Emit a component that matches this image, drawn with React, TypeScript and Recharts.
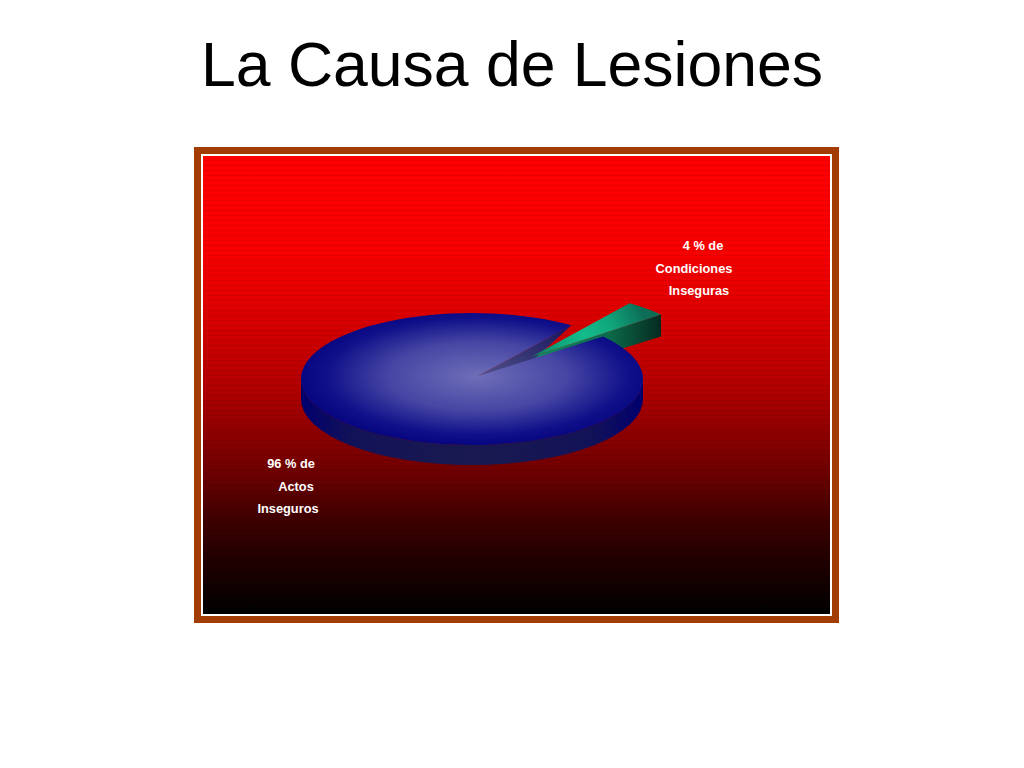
import { Pie, PieChart } from "recharts";

const categories = ["Condiciones Inseguras", "Actos Inseguros"];
const shares = [4, 96];
const titleText = "La Causa de Lesiones";
const condicionesLabel = ["4 % de", "Condiciones", "Inseguras"];
const actosLabel = ["96 % de", "Actos", "Inseguros"];

const pieData = categories.map((name, i) => ({ name, value: shares[i] }));

const TILT = 0.386;
const DEPTH = 20;
const CX = 472;
const CY = 379;
const RADIUS = 171;
// the tilted drawing has its centre point a bit off from the middle of the disc
const APEX = { x: 478, y: 376 };
const WEDGE_APEX = { x: 531, y: 357 };
const WEDGE_SHIFT = { x: 58, y: -22 };

const rim = (p: any, angle: number, dx = 0, dy = 0) => {
  const a = (angle * Math.PI) / 180;
  return {
    x: p.cx + p.outerRadius * Math.cos(a) + dx,
    y: p.cy - p.outerRadius * TILT * Math.sin(a) + dy
  };
};

const isWedge = (p: any) => (p.payload?.name ?? p.name) === categories[0];

const topPath = (p: any, apex: { x: number; y: number }, dx = 0, dy = 0) => {
  const from = rim(p, p.startAngle, dx, dy);
  const to = rim(p, p.endAngle, dx, dy);
  const large = Math.abs(p.endAngle - p.startAngle) > 180 ? 1 : 0;
  const rx = p.outerRadius;
  const ry = p.outerRadius * TILT;
  return `M${apex.x},${apex.y} L${from.x},${from.y} A${rx},${ry} 0 ${large} 0 ${to.x},${to.y} Z`;
};

// side of the big slice, only the front half of the rim can be seen
const DiscWall = (p: any) => {
  if (isWedge(p)) return <g />;
  const rx = p.outerRadius;
  const ry = p.outerRadius * TILT;
  const l = p.cx - rx;
  const r = p.cx + rx;
  return (
    <path
      d={`M${l},${p.cy} A${rx},${ry} 0 0 0 ${r},${p.cy} L${r},${p.cy + DEPTH} A${rx},${ry} 0 0 1 ${l},${p.cy + DEPTH} Z`}
      fill="url(#discWall)"
    />
  );
};

const WedgeWall = (p: any) => {
  if (!isWedge(p)) return <g />;
  const a = rim(p, p.startAngle, WEDGE_SHIFT.x, WEDGE_SHIFT.y);
  return (
    <path
      d={`M${WEDGE_APEX.x},${WEDGE_APEX.y} L${a.x},${a.y} L${a.x},${a.y + DEPTH + 2} L${WEDGE_APEX.x},${WEDGE_APEX.y + DEPTH} Z`}
      fill="url(#wedgeWall)"
    />
  );
};

// face of the cut in the disc, seen through the gap the wedge leaves
// it runs a little under the disc top so no background shows along the lower edge
const CutFace = (p: any) => {
  if (isWedge(p)) return <g />;
  const a = rim(p, p.startAngle);
  return (
    <path
      d={`M${APEX.x},${APEX.y} L${a.x},${a.y} L${WEDGE_APEX.x},${WEDGE_APEX.y + 5} L${APEX.x},${APEX.y + 5} Z`}
      fill="url(#cutFace)"
    />
  );
};

const DiscTop = (p: any) => {
  if (isWedge(p)) return <g />;
  return <path d={topPath(p, APEX)} fill="url(#discTop)" />;
};

const WedgeTop = (p: any) => {
  if (!isWedge(p)) return <g />;
  return <path d={topPath(p, WEDGE_APEX, WEDGE_SHIFT.x, WEDGE_SHIFT.y)} fill="url(#wedgeTop)" />;
};

const layers = [DiscWall, WedgeWall, CutFace, DiscTop, WedgeTop];

const labelStyle = {
  fontFamily: "'Liberation Sans', Arial, sans-serif",
  fontSize: 12.8,
  fontWeight: 700,
  fill: "#ffffff"
};

export default function App() {
  return (
    <div style={{ position: "absolute", left: 0, top: 0, width: 1024, height: 768, background: "#fff" }}>
      <PieChart width={1024} height={768} margin={{ top: 0, right: 0, bottom: 0, left: 0 }}>
        <defs>
          <linearGradient id="panel" x1="0" y1="0" x2="0" y2="1">
            <stop offset="0" stopColor="#ff0000" />
            <stop offset="0.2" stopColor="#f80000" />
            <stop offset="0.31" stopColor="#e40000" />
            <stop offset="0.51" stopColor="#b00000" />
            <stop offset="0.69" stopColor="#6e0000" />
            <stop offset="0.8" stopColor="#3c0000" />
            <stop offset="0.88" stopColor="#220000" />
            <stop offset="1" stopColor="#000000" />
          </linearGradient>
          <pattern id="bands" width="4" height="5" patternUnits="userSpaceOnUse">
            <rect width="4" height="1" fill="#000000" fillOpacity="0.07" />
          </pattern>
          <radialGradient id="discTop" cx="0.515" cy="0.48" r="0.52">
            <stop offset="0" stopColor="#6e6eb8" />
            <stop offset="0.5" stopColor="#4646a4" />
            <stop offset="0.85" stopColor="#10108a" />
            <stop offset="1" stopColor="#060680" />
          </radialGradient>
          <linearGradient id="discWall" x1="0" y1="0" x2="1" y2="0">
            <stop offset="0" stopColor="#00006e" />
            <stop offset="0.15" stopColor="#121258" />
            <stop offset="0.5" stopColor="#1a1a50" />
            <stop offset="0.85" stopColor="#121258" />
            <stop offset="1" stopColor="#00006e" />
          </linearGradient>
          <linearGradient id="cutFace" x1="0" y1="1" x2="1" y2="0">
            <stop offset="0" stopColor="#54548c" />
            <stop offset="1" stopColor="#14145c" />
          </linearGradient>
          <radialGradient id="wedgeTop" gradientUnits="userSpaceOnUse" cx={585} cy={335} r={62}>
            <stop offset="0" stopColor="#14bc8c" />
            <stop offset="0.45" stopColor="#10a67c" />
            <stop offset="1" stopColor="#0c6e56" />
          </radialGradient>
          <linearGradient id="wedgeWall" x1="0" y1="0" x2="1" y2="0">
            <stop offset="0" stopColor="#128a62" />
            <stop offset="0.6" stopColor="#0c6a4a" />
            <stop offset="1" stopColor="#062a20" />
          </linearGradient>
        </defs>

        <text x={512} y={86} textAnchor="middle" fontFamily="'Liberation Sans', Arial, sans-serif" fontSize={62.5} fill="#000000">
          {titleText}
        </text>

        <rect x={194} y={147} width={645} height={476} fill="#a33c00" />
        <rect x={201} y={154} width={631} height={462} fill="#ffffff" />
        <rect x={203} y={156} width={627} height={458} fill="url(#panel)" />
        <rect x={203} y={156} width={627} height={458} fill="url(#bands)" />

        {layers.map((shape, i) => (
          <Pie
            key={i}
            data={pieData}
            dataKey="value"
            nameKey="name"
            cx={CX}
            cy={CY}
            outerRadius={RADIUS}
            startAngle={40}
            endAngle={400}
            stroke="none"
            legendType="none"
            label={false}
            labelLine={false}
            shape={shape}
            isAnimationActive={false}
          />
        ))}

        {condicionesLabel.map((t, i) => (
          <text key={t} x={[703, 694, 699][i]} y={250 + i * 22.5} textAnchor="middle" style={labelStyle}>
            {t}
          </text>
        ))}
        {actosLabel.map((t, i) => (
          <text key={t} x={[291, 296, 288][i]} y={468 + i * 22.5} textAnchor="middle" style={labelStyle}>
            {t}
          </text>
        ))}
      </PieChart>
    </div>
  );
}
